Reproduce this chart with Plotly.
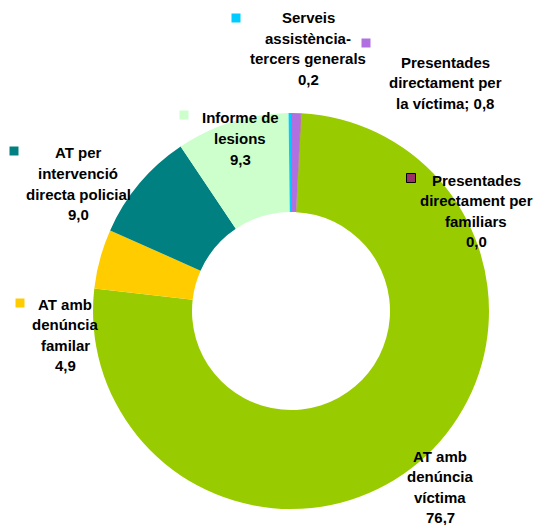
import plotly.graph_objects as go

# Data
categories = [
    "AT amb denúncia víctima",
    "AT amb denúncia familar",
    "AT per intervenció directa policial",
    "Informe de lesions",
    "Serveis assistència-tercers generals",
    "Presentades directament per la víctima",
    "Presentades directament per familiars",
]
values = [76.7, 4.9, 9.0, 9.3, 0.2, 0.8, 0.04]
value_labels = ["76,7", "4,9", "9,0", "9,3", "0,2", "0,8", "0,0"]
colors = ["#99CC00", "#FFCC00", "#008080", "#CCFFCC", "#00CCFF", "#B070E0", "#993366"]

label_lines = [
    ["AT amb", "denúncia", "víctima", value_labels[0]],
    ["AT amb", "denúncia", "familar", value_labels[1]],
    ["AT per", "intervenció", "directa policial", value_labels[2]],
    ["Informe de", "lesions", value_labels[3]],
    ["Serveis", "assistència-", "tercers generals", value_labels[4]],
    ["Presentades", "directament per", "la víctima; " + value_labels[5]],
    ["Presentades", "directament per", "familiars", value_labels[6]],
]

W, H = 536, 525
# layout (pixel positions): label center x, first line y, key x, key y
label_pos = [
    (440, 456, None, None),
    (65, 304, 20, 303),
    (78, 153, 14, 151),
    (240, 118, 184, 115),
    (308, 18, 236, 18),
    (445, 62, 366, 43),
    (476, 180, 411, 178),
]
LINE_GAP = 20.5

fig = go.Figure()
fig.add_trace(go.Pie(
    labels=categories,
    values=values,
    marker=dict(colors=colors, line=dict(width=0)),
    hole=0.5,
    sort=False,
    direction="clockwise",
    rotation=3,
    textinfo="none",
    hoverinfo="label+value",
    domain=dict(x=[93 / W, 489 / W], y=[1 - 509 / H, 1 - 113 / H]),
    showlegend=False,
))

font_family = "Liberation Sans, Arial, sans-serif"
annotations = []
shapes = []
for i, (lines, (lx, ly, kx, ky)) in enumerate(zip(label_lines, label_pos)):
    for j, line in enumerate(lines):
        yy = ly + j * LINE_GAP
        annotations.append(dict(
            x=lx / W, y=1 - yy / H, xref="paper", yref="paper",
            text="<b>" + line + "</b>", showarrow=False,
            xanchor="center", yanchor="middle", align="center",
            font=dict(family=font_family, size=15, color="#000000"),
        ))
    if kx is not None:
        s = 4.5
        border = dict(width=1, color="#000000") if i == 6 else dict(width=0)
        shapes.append(dict(
            type="rect", xref="paper", yref="paper",
            x0=(kx - s) / W, x1=(kx + s) / W,
            y0=1 - (ky + s) / H, y1=1 - (ky - s) / H,
            fillcolor=colors[i], line=border,
        ))

fig.update_layout(
    width=W, height=H,
    margin=dict(l=0, r=0, t=0, b=0),
    paper_bgcolor="white", plot_bgcolor="white",
    annotations=annotations, shapes=shapes,
)

fig.write_html("out.html", config={"displayModeBar": False},
               post_script="document.body.style.margin='0';")
